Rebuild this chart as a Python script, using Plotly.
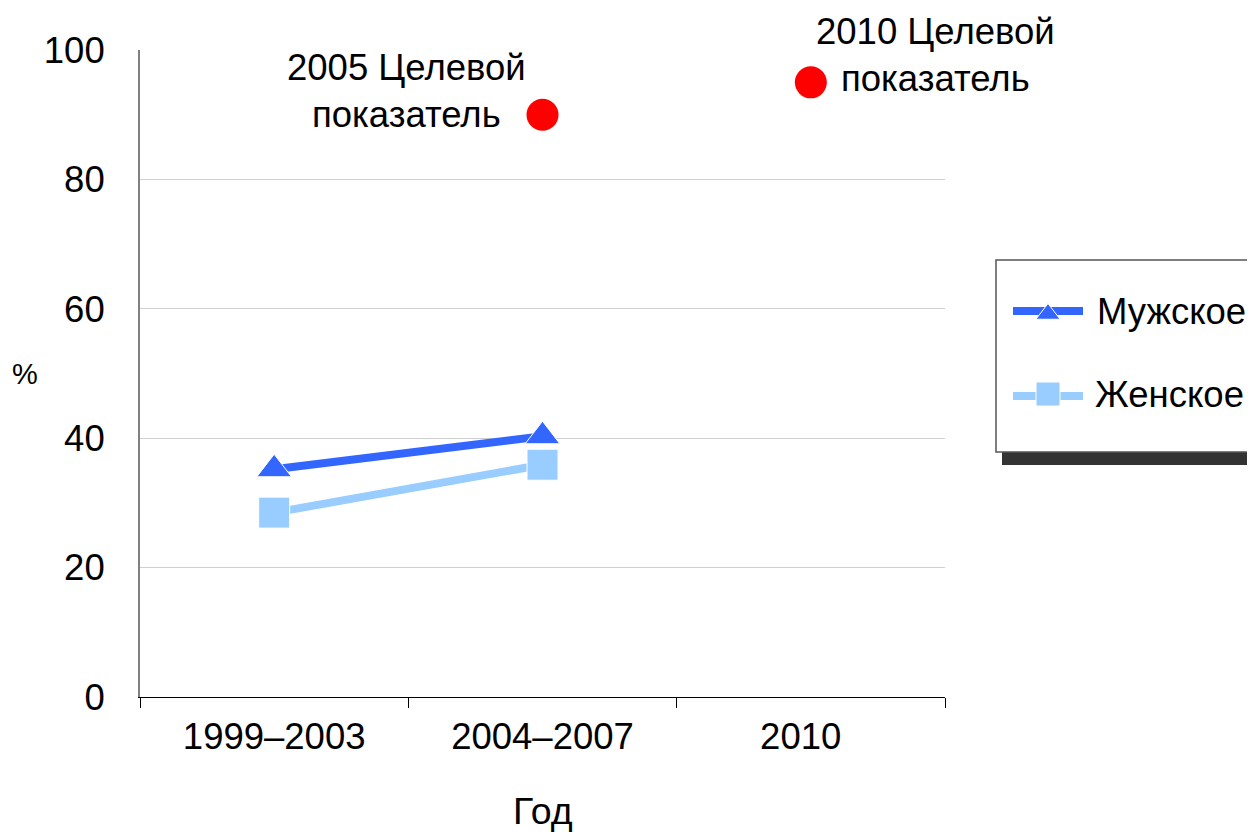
import plotly.graph_objects as go

# ---- data ----
categories = ["1999–2003", "2004–2007", "2010"]
tick_labels = ["1999–2003", "2004–2007", "2010\u00a0\u00a0"]
male_x = ["1999–2003", "2004–2007"]
male_values = [35.2, 40.3]
female_x = ["1999–2003", "2004–2007"]
female_values = [28.5, 35.9]
target_x = ["2004–2007", "2010"]
target_values = [90, 95]
target_labels = ["2005 Целевой<br>показатель", "2010 Целевой<br>показатель"]
legend_names = ["Мужское", "Женское"]
y_ticks = [0, 20, 40, 60, 80, 100]

W, H = 1255, 832
OFF = 8  # page body margin
FONT = "Liberation Sans, Arial, sans-serif"
FS = 36.5
MALE_C = "#3366FF"
FEMALE_C = "#99CCFF"


def px(x):
    return (x - OFF) / W


def py(y):
    return 1 - (y - OFF) / H


fig = go.Figure()

fig.add_trace(go.Scatter(
    x=male_x, y=male_values, mode="lines+markers", name=legend_names[0],
    line=dict(color=MALE_C, width=8),
    marker=dict(symbol="triangle-up", size=30, color=MALE_C,
                line=dict(color="white", width=1)),
    showlegend=False, cliponaxis=False))
fig.add_trace(go.Scatter(
    x=female_x, y=female_values, mode="lines+markers", name=legend_names[1],
    line=dict(color=FEMALE_C, width=8),
    marker=dict(symbol="square", size=31, color=FEMALE_C,
                line=dict(color="white", width=1)),
    showlegend=False, cliponaxis=False))
fig.add_trace(go.Scatter(
    x=target_x, y=target_values, mode="markers",
    marker=dict(symbol="circle", size=32, color="#FF0000"),
    showlegend=False, cliponaxis=False))

# legend markers on a full-figure pixel axis
fig.add_trace(go.Scatter(
    x=[1048 - OFF], y=[314 - OFF], mode="markers", xaxis="x2", yaxis="y2",
    marker=dict(symbol="triangle-up", size=21, color=MALE_C,
                line=dict(color="white", width=1)),
    showlegend=False, hoverinfo="skip"))
fig.add_trace(go.Scatter(
    x=[1048 - OFF], y=[394 - OFF], mode="markers", xaxis="x2", yaxis="y2",
    marker=dict(symbol="square", size=24, color=FEMALE_C,
                line=dict(color="white", width=1)),
    showlegend=False, hoverinfo="skip"))

shapes = [
    dict(type="rect", xref="paper", yref="paper", x0=px(1002), x1=px(1275),
         y0=py(465), y1=py(452), fillcolor="#333333", line=dict(width=0),
         layer="below"),
    dict(type="rect", xref="paper", yref="paper", x0=px(996), x1=px(1275),
         y0=py(452), y1=py(260), fillcolor="white",
         line=dict(color="#555555", width=1.5), layer="below"),
    dict(type="line", xref="paper", yref="paper", x0=px(1013), x1=px(1083),
         y0=py(311), y1=py(311), line=dict(color=MALE_C, width=8),
         layer="below"),
    dict(type="line", xref="paper", yref="paper", x0=px(1013), x1=px(1083),
         y0=py(396), y1=py(396), line=dict(color=FEMALE_C, width=8),
         layer="below"),
]

annotations = [
    dict(text=target_labels[0], xref="paper", yref="paper", x=px(406),
         y=py(91), xanchor="center", yanchor="middle", align="center",
         showarrow=False, font=dict(size=FS, color="black", family=FONT)),
    dict(text=target_labels[1], xref="paper", yref="paper", x=px(935),
         y=py(55), xanchor="center", yanchor="middle", align="center",
         showarrow=False, font=dict(size=FS, color="black", family=FONT)),
    dict(text="Год", xref="paper", yref="paper", x=px(543), y=py(811),
         xanchor="center", yanchor="middle", showarrow=False,
         font=dict(size=FS + 1, color="black", family=FONT)),
    dict(text="%", xref="paper", yref="paper", x=px(25), y=py(374),
         xanchor="center", yanchor="middle", showarrow=False,
         font=dict(size=29, color="black", family=FONT)),
    dict(text=legend_names[0], xref="paper", yref="paper", x=px(1095),
         y=py(311), xanchor="left", yanchor="middle", showarrow=False,
         font=dict(size=FS, color="black", family=FONT)),
    dict(text=legend_names[1], xref="paper", yref="paper", x=px(1093),
         y=py(394), xanchor="left", yanchor="middle", showarrow=False,
         font=dict(size=FS, color="black", family=FONT)),
]

fig.update_layout(
    width=W, height=H, autosize=False,
    margin=dict(l=0, r=0, t=0, b=0, pad=0, autoexpand=False),
    paper_bgcolor="white",
    plot_bgcolor="rgba(0,0,0,0)",
    font=dict(family=FONT, color="black", size=FS),
    showlegend=False,
    xaxis=dict(
        type="category", categoryorder="array", categoryarray=categories,
        tickmode="array", tickvals=categories, ticktext=tick_labels,
        range=[-0.5, 2.5], domain=[px(140), px(945)],
        tickson="boundaries", ticks="outside", ticklen=10, tickwidth=1,
        tickcolor="black", showline=True, linecolor="black", linewidth=1,
        showgrid=False, tickfont=dict(size=FS, family=FONT),
        ticklabelstandoff=7, fixedrange=True, anchor="y", automargin=False),
    yaxis=dict(
        range=[0, 100], domain=[py(697), py(50)], tickvals=y_ticks,
        ticks="", showline=True, linecolor="#808080", linewidth=2,
        showgrid=True, gridcolor="#D0D0D0", gridwidth=1, zeroline=False,
        tickfont=dict(size=FS, family=FONT), ticklabelstandoff=26,
        fixedrange=True, anchor="x", automargin=False),
    xaxis2=dict(range=[0, W], domain=[0, 1], visible=False, anchor="y2",
                fixedrange=True, automargin=False),
    yaxis2=dict(range=[H, 0], domain=[0, 1], visible=False, anchor="x2",
                fixedrange=True, automargin=False),
    shapes=shapes,
    annotations=annotations,
)

fig.write_html("out.html")
